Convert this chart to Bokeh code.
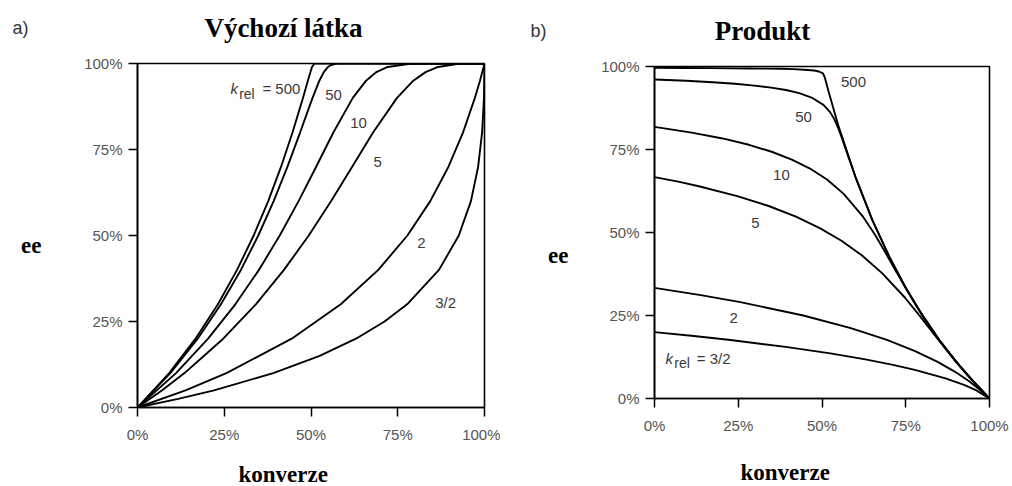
from bokeh.plotting import figure
from bokeh.models import Range1d, FixedTicker, Label, LinearAxis
from bokeh.layouts import column, row
from bokeh.embed import file_html
from bokeh.resources import INLINE

# ---------------- data (conversion %, ee %) ----------------
tick_values = [0, 25, 50, 75, 100]
tick_labels = ["0%", "25%", "50%", "75%", "100%"]

# a) starting material
sm_500_x = [0, 9.13, 16.73, 23.17, 28.69, 33.48, 37.67, 41.38, 44.69, 47.68, 49.09, 50.28, 51.0, 100]
sm_500_y = [0, 10, 20, 30, 40, 50, 60, 70, 80, 90, 95, 99, 100, 100]
sm_50_x = [0, 9.46, 17.35, 24.04, 29.80, 34.81, 39.24, 43.22, 46.88, 50.44, 52.41, 53.69, 54.89, 55.64, 57.2, 100]
sm_50_y = [0, 10, 20, 30, 40, 50, 60, 70, 80, 90, 95, 97.5, 99, 99.5, 100, 100]
sm_10_x = [0, 11.10, 20.34, 28.19, 34.99, 40.99, 46.42, 51.49, 56.48, 62.05, 65.87, 68.84, 72.09, 78.50, 100]
sm_10_y = [0, 10, 20, 30, 40, 50, 60, 70, 80, 90, 95, 97.5, 99, 99.9, 100]
sm_5_x = [0, 7.11, 13.54, 24.70, 34.10, 42.21, 49.35, 55.81, 61.87, 67.93, 74.79, 79.48, 83.02, 86.62, 92.52, 100]
sm_5_y = [0, 5, 10, 20, 30, 40, 50, 60, 70, 80, 90, 95, 97.5, 99, 99.9, 100]
sm_2_x = [0, 13.83, 25.62, 44.44, 58.58, 69.39, 77.78, 84.37, 89.62, 93.83, 97.23, 98.69, 99.36, 99.75, 100]
sm_2_y = [0, 5, 10, 20, 30, 40, 50, 60, 70, 80, 90, 95, 97.5, 99, 100]
sm_15_x = [0, 11.72, 22.04, 39.14, 52.49, 62.96, 71.20, 77.70, 86.88, 92.59, 96.09, 98.17, 99.31, 99.85, 100]
sm_15_y = [0, 2.5, 5, 10, 15, 20, 25, 30, 40, 50, 60, 70, 80, 90, 100]

# b) product
pr_500_x = [0, 9.13, 16.73, 23.17, 28.69, 33.48, 37.67, 41.38, 44.69, 47.68, 49.09, 50.28, 50.73, 51.0, 52.0, 55, 60, 65, 70, 75, 80, 85, 90, 95, 100]
pr_500_y = [99.6, 99.55, 99.5, 99.45, 99.4, 99.35, 99.3, 99.2, 99.0, 98.8, 98.5, 97.9, 97.0, 96.1, 92.3, 81.8, 66.7, 53.8, 42.9, 33.3, 25.0, 17.6, 11.1, 5.3, 0]
pr_50_x = [0, 9.46, 17.35, 24.04, 29.80, 34.81, 39.24, 43.22, 46.88, 50.44, 52.41, 53.69, 54.89, 55.64, 57.16, 60, 65, 70, 75, 80, 85, 90, 95, 100]
pr_50_y = [96.1, 95.7, 95.27, 94.79, 94.23, 93.64, 92.91, 91.96, 90.65, 88.43, 86.26, 84.10, 81.36, 79.33, 74.87, 66.7, 53.8, 42.9, 33.3, 25.0, 17.6, 11.1, 5.3, 0]
pr_10_x = [0, 11.10, 20.34, 28.19, 34.99, 40.99, 46.42, 51.49, 56.48, 62.05, 65.87, 68.84, 72.09, 78.50, 85, 90, 95, 100]
pr_10_y = [81.82, 80.09, 78.33, 76.42, 74.32, 71.98, 69.26, 65.95, 61.64, 55.04, 49.22, 44.13, 38.33, 27.36, 17.6, 11.1, 5.3, 0]
pr_5_x = [0, 7.11, 13.54, 24.70, 34.10, 42.21, 49.35, 55.81, 61.87, 67.93, 74.79, 79.48, 83.02, 86.62, 92.52, 100]
pr_5_y = [66.67, 65.32, 63.86, 60.97, 57.98, 54.76, 51.32, 47.51, 43.14, 37.77, 30.34, 24.53, 19.94, 15.29, 8.08, 0]
pr_2_x = [0, 13.83, 25.62, 44.44, 58.58, 69.39, 77.78, 84.37, 89.62, 93.83, 97.23, 100]
pr_2_y = [33.33, 31.15, 29.03, 25.00, 21.21, 17.65, 14.28, 11.12, 8.11, 5.26, 2.56, 0]
pr_15_x = [0, 11.72, 22.04, 39.14, 52.49, 62.96, 71.20, 77.70, 86.88, 92.59, 96.09, 100]
pr_15_y = [20.0, 18.83, 17.69, 15.55, 13.58, 11.77, 10.11, 8.61, 6.04, 4.00, 2.44, 0]

sm_series = [(sm_500_x, sm_500_y), (sm_50_x, sm_50_y), (sm_10_x, sm_10_y),
             (sm_5_x, sm_5_y), (sm_2_x, sm_2_y), (sm_15_x, sm_15_y)]
pr_series = [(pr_500_x, pr_500_y), (pr_50_x, pr_50_y), (pr_10_x, pr_10_y),
             (pr_5_x, pr_5_y), (pr_2_x, pr_2_y), (pr_15_x, pr_15_y)]

curve_labels_a = ["50", "10", "5", "2", "3/2"]
curve_label_pos_a = [(56.5, 90.7), (63.7, 82.6), (69.2, 71.5), (81.8, 47.7), (88.8, 30.5)]
curve_labels_b = ["500", "50", "10", "5", "2"]
curve_label_pos_b = [(59.4, 95.2), (44.5, 84.9), (37.9, 67.2), (30.1, 52.8), (23.6, 24.3)]

titles = ["Výchozí látka", "Produkt"]
panel_tags = ["a)", "b)"]
x_title = "konverze"
y_title = "ee"

SANS = "Liberation Sans"
SERIF = "Liberation Serif"
LABEL_COLOR = "#3a3a3a"


def make_fig(fw, fh, bl, br, bt, bb):
    p = figure(frame_width=fw, frame_height=fh, output_backend="svg",
               toolbar_location=None, x_range=Range1d(0, 100), y_range=Range1d(0, 100),
               min_border_left=bl, min_border_right=br, min_border_top=bt, min_border_bottom=bb)
    p.grid.visible = False
    p.outline_line_color = "black"
    p.outline_line_width = 1.6
    p.outline_line_alpha = 1.0
    p.background_fill_color = "white"
    p.border_fill_color = "white"
    overrides = {v: l for v, l in zip(tick_values, tick_labels)}
    for ax in (p.xaxis[0], p.yaxis[0]):
        ax.ticker = FixedTicker(ticks=tick_values)
        ax.major_label_overrides = overrides
        ax.major_tick_in = 0
        ax.major_tick_out = 9
        ax.major_tick_line_width = 1.5
        ax.major_tick_line_color = "black"
        ax.minor_tick_line_color = None
        ax.axis_line_width = 1.6
        ax.axis_line_color = "black"
        ax.major_label_text_font = SANS
        ax.major_label_text_font_size = "15px"
        ax.major_label_text_color = "#555555"
    p.xaxis[0].major_label_standoff = 9
    p.yaxis[0].major_label_standoff = 6
    return p


def name_axis(p, side, pos, text, standoff):
    """an extra axis without line or ticks that only carries one bold word."""
    ax = LinearAxis(ticker=FixedTicker(ticks=[pos]), major_label_overrides={pos: text},
                    axis_line_color=None, major_tick_line_color=None,
                    minor_tick_line_color=None, major_label_standoff=standoff,
                    major_label_text_font=SERIF, major_label_text_font_size="23px",
                    major_label_text_font_style="bold", major_label_text_color="black")
    p.add_layout(ax, side)


def text_fig(w, h):
    """a blank strip whose frame is the whole canvas; y measured from its top."""
    p = figure(width=w, height=h, output_backend="svg", toolbar_location=None,
               x_range=Range1d(0, w), y_range=Range1d(h, 0),
               x_axis_location=None, y_axis_location=None,
               min_border_left=0, min_border_right=0, min_border_top=0, min_border_bottom=0)
    p.grid.visible = False
    p.outline_line_color = None
    p.background_fill_color = "white"
    p.border_fill_color = "white"
    return p


def txt(p, x, y, s, font=SANS, size="15px", style="normal", align="center",
        baseline="middle", color=LABEL_COLOR):
    p.add_layout(Label(x=x, y=y, text=s, text_font=font, text_font_size=size,
                       text_font_style=style, text_align=align, text_baseline=baseline,
                       text_color=color))


# ---------------- panel a ----------------
top_a = text_fig(500, 50)
txt(top_a, 283, 27, titles[0], font=SERIF, size="27px", style="bold", color="black")
txt(top_a, 12, 27, panel_tags[0], size="18px", align="left", color="#333333")

pa = make_fig(347, 344, 137, 16, 13, 77)
for xs, ys in sm_series:
    pa.line(xs, ys, line_color="black", line_width=1.9)
for s, (x, y) in zip(curve_labels_a, curve_label_pos_a):
    txt(pa, x, y, s)
txt(pa, 26.8, 92.6, "k", style="italic", align="left", baseline="alphabetic")
txt(pa, 29.3, 91.2, "rel", size="14px", align="left", baseline="alphabetic")
txt(pa, 36.0, 92.6, "= 500", align="left", baseline="alphabetic")
name_axis(pa, "left", 47, y_title, 34)
name_axis(pa, "below", 42, x_title, 10)

panel_a = column(top_a, row(pa))

# ---------------- panel b ----------------
top_b = text_fig(510, 50)
txt(top_b, 262, 30, titles[1], font=SERIF, size="27px", style="bold", color="black")
txt(top_b, 30, 30, panel_tags[1], size="18px", align="left", color="#333333")

pb = make_fig(335, 332, 154, 21, 16, 86)
for xs, ys in pr_series:
    pb.line(xs, ys, line_color="black", line_width=1.9)
for s, (x, y) in zip(curve_labels_b, curve_label_pos_b):
    txt(pb, x, y, s)
txt(pb, 3.3, 12.0, "k", style="italic", align="left", baseline="alphabetic")
txt(pb, 5.9, 10.6, "rel", size="14px", align="left", baseline="alphabetic")
txt(pb, 12.6, 12.0, "= 3/2", align="left", baseline="alphabetic")
name_axis(pb, "left", 43, y_title, 24)
name_axis(pb, "below", 39, x_title, 17)

panel_b = column(top_b, row(pb))

layout = row(panel_a, panel_b)
open("out.html", "w").write(file_html(layout, INLINE))
